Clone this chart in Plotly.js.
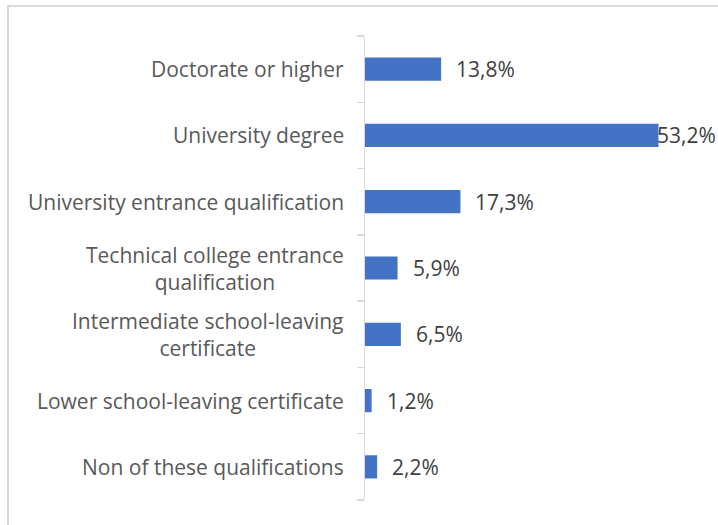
<!DOCTYPE html>
<html>
<head>
<meta charset="utf-8">
<script src="https://cdn.plot.ly/plotly-3.0.1.min.js"></script>
<style>
html,body{margin:0;padding:0;background:#fff;}
#frame{position:absolute;left:7px;top:5px;width:711px;height:520px;border-left:2px solid #d9d9d9;border-top:2px solid #d9d9d9;}
#chart{position:absolute;left:0;top:0;width:718px;height:525px;}
</style>
</head>
<body>
<div id="frame"></div>
<div id="chart"></div>
<script>
const categories = [
  "Doctorate or higher",
  "University degree",
  "University entrance qualification",
  "Technical college entrance<br>qualification",
  "Intermediate school-leaving<br>certificate",
  "Lower school-leaving certificate",
  "Non of these qualifications"
];
const values = [13.8, 53.2, 17.3, 5.9, 6.5, 1.2, 2.2];
const valueLabels = ["13,8%", "53,2%", "17,3%", "5,9%", "6,5%", "1,2%", "2,2%"];

const FONT = '"Open Sans", sans-serif';
const maxVal = Math.max(...values);
const valueAnn = values.map((v, i) => ({
  x: v, y: i, xref: 'x', yref: 'y',
  text: valueLabels[i], showarrow: false,
  xanchor: 'left', yanchor: 'middle',
  xshift: v === maxVal ? -3 : 13,
  font: {family: FONT, size: 21, color: '#404040'}
}));
const catAnn = categories.map((c, i) => ({
  x: 0, y: i, xref: 'paper', yref: 'y',
  text: c, showarrow: false,
  xanchor: 'right', yanchor: 'middle', align: 'center',
  xshift: -19,
  font: {family: FONT, size: 21, color: '#595959'}
}));

const trace = {
  type: 'bar', orientation: 'h',
  x: values, y: categories.map((c, i) => i),
  marker: {color: '#4472c4'},
  hoverinfo: 'skip'
};

const layout = {
  width: 718, height: 525,
  margin: {l: 365, r: 22, t: 36, b: 25},
  paper_bgcolor: 'rgba(0,0,0,0)',
  plot_bgcolor: 'rgba(0,0,0,0)',
  bargap: 0.65,
  showlegend: false,
  xaxis: {range: [0, 60], visible: false, fixedrange: true},
  yaxis: {
    range: [6.5, -0.5],
    showline: true, linecolor: '#d9d9d9', linewidth: 1.5,
    ticks: 'outside', tickmode: 'array',
    tickvals: categories.map((c, i) => i - 0.5).concat([categories.length - 0.5]),
    ticktext: categories.map(() => '').concat(['']),
    ticklen: 7, tickcolor: '#d9d9d9', tickwidth: 1.5,
    showgrid: false, zeroline: false
  },
  annotations: catAnn.concat(valueAnn)
};

Plotly.newPlot('chart', [trace], layout, {displayModeBar: false, staticPlot: true});
</script>
</body>
</html>
